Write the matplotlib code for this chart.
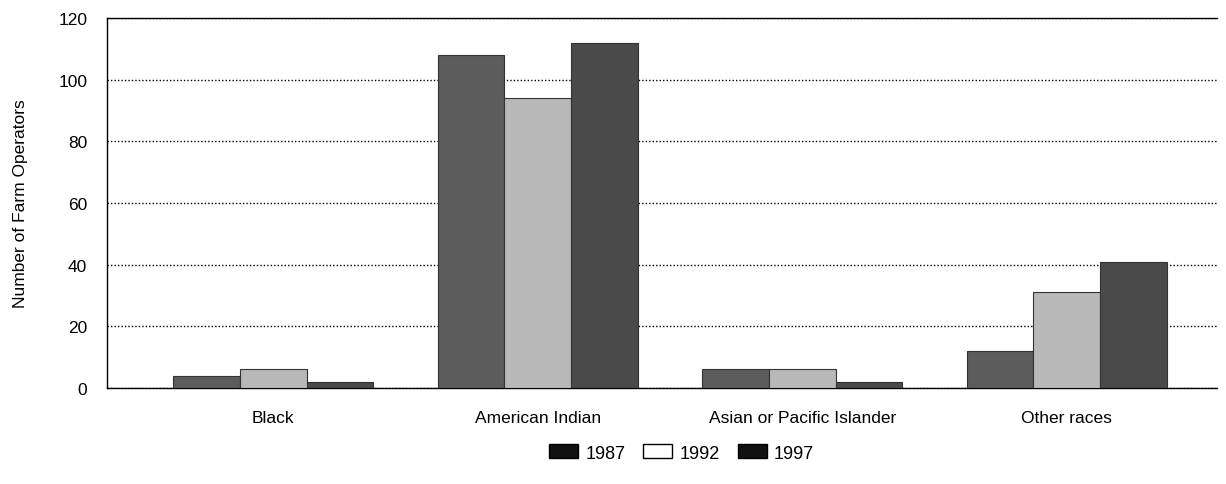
import numpy as np
from matplotlib import pyplot as plt
from matplotlib.patches import Patch

plt.rcParams['font.family'] = ['Liberation Sans', 'DejaVu Sans']

categories = ["Black", "American Indian", "Asian or Pacific Islander", "Other races"]
years = ["1987", "1992", "1997"]
v1987 = [4, 108, 6, 12]
v1992 = [6, 94, 6, 31]
v1997 = [2, 112, 2, 41]
colors = ["#5c5c5c", "#b8b8b8", "#4a4a4a"]
legend_colors = ["#111111", "#ffffff", "#111111"]

fig = plt.figure(figsize=(12.26, 4.85), dpi=100)
ax = fig.add_axes([0.087, 0.198, 0.906, 0.763])

x = np.arange(len(categories))
w = 0.252
for i, vals in enumerate([v1987, v1992, v1997]):
    ax.bar(x + (i - 1) * w, vals, w, color=colors[i], edgecolor="#333333",
           linewidth=0.8, zorder=3)

ax.set_xlim(-0.63, 3.57)
ax.set_ylim(0, 120)
ax.set_yticks(range(0, 121, 20))
ax.yaxis.grid(True, linestyle=(0, (1, 1.5)), color="black", linewidth=1.0, zorder=0)
ax.set_xticks(x)
ax.set_xticklabels(categories, fontsize=12.5)
ax.tick_params(axis="x", length=0, pad=16)
ax.tick_params(axis="y", labelsize=12.5, length=0, pad=14)
ax.spines["right"].set_visible(False)
for s in ["top", "left", "bottom"]:
    ax.spines[s].set_linewidth(1.0)
ax.set_ylabel("Number of Farm Operators", fontsize=12.5, labelpad=22)

handles = [Patch(facecolor=legend_colors[i], edgecolor="black", label=years[i]) for i in range(3)]
fig.legend(handles=handles, loc="center", bbox_to_anchor=(0.556, 0.064), ncol=3,
           frameon=False, fontsize=13, handlelength=1.6, handleheight=0.8,
           columnspacing=1.0, handletextpad=0.4)

fig.savefig("out.png", dpi=100)
